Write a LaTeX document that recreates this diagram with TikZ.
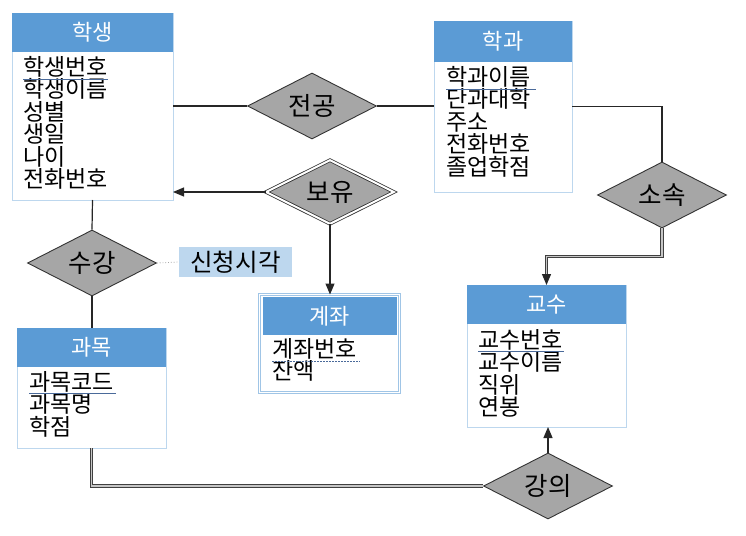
\documentclass[tikz,border=0pt]{standalone}
\usepackage{fontspec}
\setmainfont{Noto Sans CJK KR}
\usetikzlibrary{shapes.geometric,arrows.meta,calc}
\definecolor{hdr}{HTML}{5B9BD5}
\definecolor{bdr}{HTML}{BDD7EE}
\definecolor{relgray}{HTML}{A6A6A6}
\definecolor{attrbg}{HTML}{BDD7EE}
\definecolor{keyln}{HTML}{4A6A9A}
\begin{document}
\begin{tikzpicture}[x=1pt,y=-1pt,
  ent/.style={draw=bdr, line width=0.9pt, fill=white, anchor=north west, inner sep=0pt, outer sep=0pt},
  hdrbox/.style={fill=hdr, anchor=north west, inner sep=0pt, outer sep=0pt, text=white, font=\fontsize{22}{22}\selectfont},
  attr/.style={anchor=base west, inner sep=0pt, font=\fontsize{23}{23}\selectfont},
  relbox/.style={diamond, draw=black!80, line width=0.9pt, fill=relgray, inner sep=0pt, aspect=1.95,
    minimum width=129pt, minimum height=66pt, font=\fontsize{25.5}{25.5}\selectfont},
  conn/.style={draw=black!85, line width=1.2pt},
  arr/.style={conn, -{Triangle[length=11pt,width=9pt]}},
  dbl/.style={draw=black!75, double=gray!45, double distance=1.6pt, line width=0.8pt},
  keyu/.style={draw=keyln, line width=0.8pt},
]
\useasboundingbox[fill=white] (0,0) rectangle (746,535);

% ---------- 학생 ----------
\node[ent, minimum width=161pt, minimum height=187pt] (stu) at (12,13) {};
\node[hdrbox, minimum width=161pt, minimum height=39pt] (stuh) at (12,13) {학생};
\foreach \t [count=\i] in {학생번호,학생이름,성별,생일,나이,전화번호}
  \node[attr] (stu\i) at (23,{75+22.5*(\i-1)}) {\t};
\draw[keyu] (23,79) -- (108,79);

% ---------- 학과 ----------
\node[ent, minimum width=138pt, minimum height=171pt] (dept) at (434,21) {};
\node[hdrbox, minimum width=138pt, minimum height=41pt] (depth) at (434,21) {학과};
\foreach \t [count=\i] in {학과이름,단과대학,주소,전화번호,졸업학점}
  \node[attr] (dept\i) at (446,{85+22.5*(\i-1)}) {\t};
\draw[keyu] (446,89) -- (536,89);

% ---------- 교수 ----------
\node[ent, minimum width=159pt, minimum height=142pt] (prof) at (467,285) {};
\node[hdrbox, minimum width=159pt, minimum height=39pt] (profh) at (467,285) {교수};
\foreach \t [count=\i] in {교수번호,교수이름,직위,연봉}
  \node[attr] (prof\i) at (478,{348+22.5*(\i-1)}) {\t};
\draw[keyu] (478,351.5) -- (564,351.5);

% ---------- 과목 ----------
\node[ent, minimum width=149pt, minimum height=120pt] (course) at (17,328) {};
\node[hdrbox, minimum width=149pt, minimum height=39pt] (courseh) at (17,328) {과목};
\foreach \t [count=\i] in {과목코드,과목명,학점}
  \node[attr] (course\i) at (29,{390+22.5*(\i-1)}) {\t};
\draw[keyu] (29,393.5) -- (116,393.5);

% ---------- 계좌 (weak entity) ----------
\node[ent, draw=bdr!70!hdr, double=white, double distance=1.5pt, line width=0.8pt,
      minimum width=140pt, minimum height=98pt] (acct) at (259.5,294.5) {};
\node[hdrbox, minimum width=134pt, minimum height=38pt] (accth) at (262.5,297) {계좌};
\foreach \t [count=\i] in {계좌번호,잔액}
  \node[attr] (acct\i) at (272,{357+22*(\i-1)}) {\t};
\draw[keyu, dashed, dash pattern=on 2pt off 1pt] (272,361) -- (360,361);

% ---------- relationships ----------
\node[relbox] (major) at (312,106) {전공};
\node[relbox, minimum width=128pt, minimum height=64pt, double=white, double distance=2pt, line width=0.8pt] (own) at (330,192) {보유};
\node[relbox] (take) at (92,263) {수강};
\node[relbox] (belong) at (662,195) {소속};
\node[relbox] (lec) at (548,486) {강의};

% relationship attribute
\node[fill=attrbg, minimum width=113pt, minimum height=30pt, inner sep=0pt,
      font=\fontsize{24.5}{24.5}\selectfont] (stime) at (235.5,262) {신청시각};

% ---------- connectors ----------
\draw[conn] (major.west) -- (major.west -| stu.east);
\draw[conn] (major.east) -- (major.east -| dept.west);
\draw[conn] (dept.east) -| (belong.north);
\draw[dbl] (belong.south) -- ++(0,28) -| ($(prof.north)+(0,-10)$);
\draw[arr] ($(prof.north)+(0,-11)$) -- (prof.north);
\draw[arr] (own.west) -- (own.west -| stu.east);
\draw[arr] (own.south) -- (own.south |- acct.north);
\draw[conn] (stu.south) -- (take.north);
\draw[conn] (take.south) -- (take.south |- course.north);
\draw[draw=gray!70, line width=0.8pt, dotted] (take.east) -- (stime.west);
\draw[dbl] (course.south) |- (lec.west);
\draw[arr] (lec.north) -- (lec.north |- prof.south);
\end{tikzpicture}
\end{document}
